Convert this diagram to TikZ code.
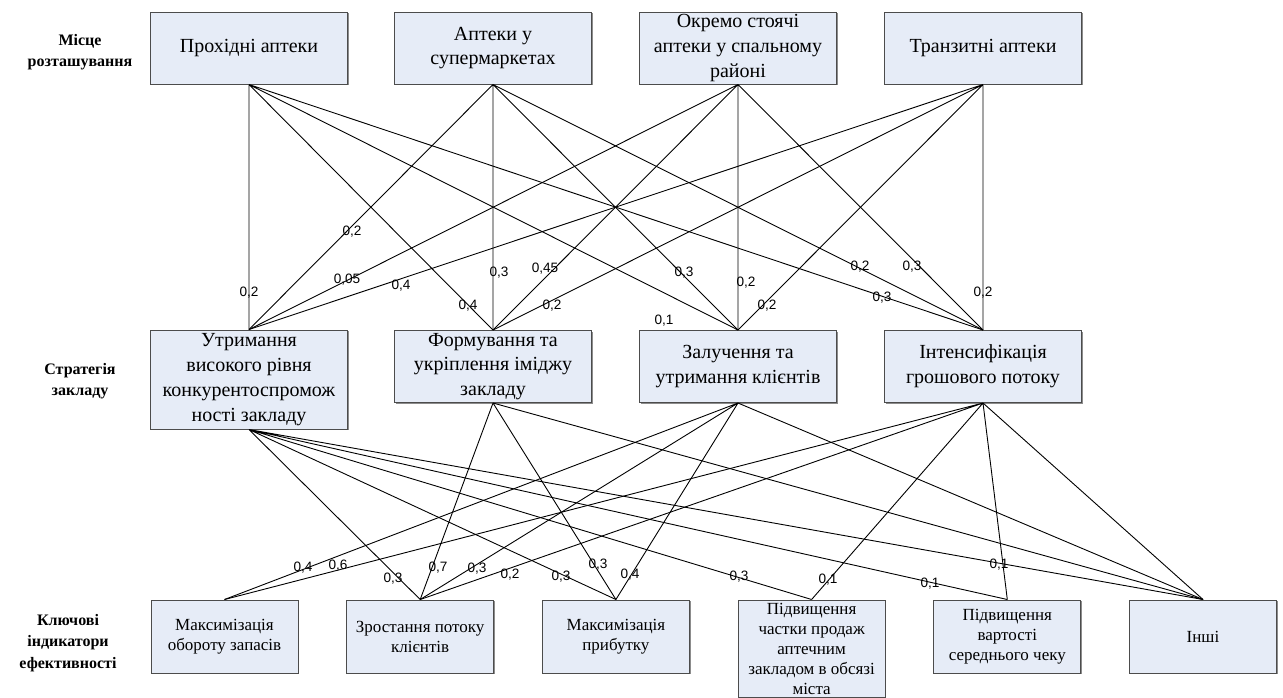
\documentclass[tikz,border=0pt]{standalone}
\usepackage{fontspec}
\setmainfont{Liberation Serif}
\newfontfamily\wtfont{Liberation Sans}
\usetikzlibrary{shadows}
\definecolor{boxfill}{RGB}{230,236,247}

\begin{document}
\begin{tikzpicture}[x=0.5pt, y=-0.5pt,
  box/.style={draw=black!70, line width=0.5pt, fill=boxfill, align=center, inner sep=0pt,
    drop shadow={shadow xshift=0.6pt, shadow yshift=-0.6pt, fill=black!45, opacity=1}},
  bigbox/.style={box, minimum width=98.5pt, minimum height=36pt, font=\fontsize{10}{12.4}\selectfont},
  kpibox/.style={box, minimum width=73.5pt, minimum height=36.5pt, font=\fontsize{8.5}{10}\selectfont},
  level/.style={align=center, font=\bfseries\fontsize{8}{10.6}\selectfont},
  wt/.style={font=\wtfont\fontsize{6.8}{8}\selectfont, inner sep=0pt},
  link/.style={line width=0.45pt}]
\useasboundingbox (0,0) rectangle (1283,697);
% Levels
\node[level] (L1) at (80,52) {Місце\\розташування};
\node[level] (L2) at (80,381) {Стратегія\\закладу};
\node[level] (L3) at (68,643) {Ключові\\індикатори\\ефективності};
% Location
\node[bigbox] (T1) at (249,48) {Прохідні аптеки};
\node[bigbox] (T2) at (493,48) {Аптеки у\\супермаркетах};
\node[bigbox] (T3) at (738,48) {Окремо стоячі\\аптеки у спальному\\районі};
\node[bigbox] (T4) at (983,48) {Транзитні аптеки};
% Strategy
\node[bigbox, minimum height=49.5pt, font=\fontsize{10}{12.6}\selectfont] (M1) at (249,379.5) {Утримання\\високого рівня\\конкурентоспромож\\ності закладу};
\node[bigbox] (M2) at (493,366.5) {Формування та\\укріплення іміджу\\закладу};
\node[bigbox] (M3) at (738,366.5) {Залучення та\\утримання клієнтів};
\node[bigbox] (M4) at (983,366.5) {Інтенсифікація\\грошового потоку};
% KPI
\node[kpibox] (B1) at (224.5,636.5) {Максимізація\\обороту запасів};
\node[kpibox] (B2) at (420.2,636.5) {Зростання потоку\\клієнтів};
\node[kpibox] (B3) at (615.9,636.5) {Максимізація\\прибутку};
\node[kpibox, minimum height=48.5pt] (B4) at (811.6,648.5) {Підвищення\\частки продаж\\аптечним\\закладом в обсязі\\міста};
\node[kpibox] (B5) at (1007.3,636.5) {Підвищення\\вартості\\середнього чеку};
\node[kpibox] (B6) at (1203,636.5) {Інші};
% Location -- strategy
\draw[link] (T1.south) -- (M1.north) (T1.south) -- (M2.north) (T1.south) -- (M3.north) (T1.south) -- (M4.north);
\draw[link] (T2.south) -- (M1.north) (T2.south) -- (M2.north) (T2.south) -- (M3.north) (T2.south) -- (M4.north);
\draw[link] (T3.south) -- (M1.north) (T3.south) -- (M2.north) (T3.south) -- (M3.north) (T3.south) -- (M4.north);
\draw[link] (T4.south) -- (M1.north) (T4.south) -- (M2.north) (T4.south) -- (M3.north) (T4.south) -- (M4.north);
% Strategy -- KPI
\draw[link] (M1.south) -- (B2.north) (M1.south) -- (B3.north) (M1.south) -- (B4.north) (M1.south) -- (B5.north) (M1.south) -- (B6.north);
\draw[link] (M2.south) -- (B2.north) (M2.south) -- (B3.north) (M2.south) -- (B6.north);
\draw[link] (M3.south) -- (B1.north) (M3.south) -- (B2.north) (M3.south) -- (B3.north) (M3.south) -- (B6.north);
\draw[link] (M4.south) -- (B1.north) (M4.south) -- (B2.north) (M4.south) -- (B4.north) (M4.south) -- (B5.north) (M4.south) -- (B6.north);
% Weights, upper
\node[wt] (w1) at (249,293) {0,2};
\node[wt] (w2) at (352,232) {0,2};
\node[wt] (w3) at (347,280) {0,05};
\node[wt] (w4) at (401,286) {0,4};
\node[wt] (w5) at (468,306) {0,4};
\node[wt] (w6) at (499,273) {0,3};
\node[wt] (w7) at (545,269) {0,45};
\node[wt] (w8) at (552,306) {0,2};
\node[wt] (w9) at (684,273) {0,3};
\node[wt] (w10) at (664,321) {0,1};
\node[wt] (w11) at (746,283) {0,2};
\node[wt] (w12) at (767,306) {0,2};
\node[wt] (w13) at (882,298) {0,3};
\node[wt] (w14) at (860,267) {0,2};
\node[wt] (w15) at (912,267) {0,3};
\node[wt] (w16) at (983,293) {0,2};
% Weights, lower
\node[wt] (k1) at (303,568) {0,4};
\node[wt] (k2) at (338,566) {0,6};
\node[wt] (k3) at (393,579) {0,3};
\node[wt] (k4) at (438,568) {0,7};
\node[wt] (k5) at (477,569) {0,3};
\node[wt] (k6) at (510,575) {0,2};
\node[wt] (k7) at (561,577) {0,3};
\node[wt] (k8) at (598,565) {0,3};
\node[wt] (k9) at (630,575) {0,4};
\node[wt] (k10) at (739,577) {0,3};
\node[wt] (k11) at (828,580) {0,1};
\node[wt] (k12) at (930,584) {0,1};
\node[wt] (k13) at (999,565) {0,1};
\end{tikzpicture}
\end{document}
